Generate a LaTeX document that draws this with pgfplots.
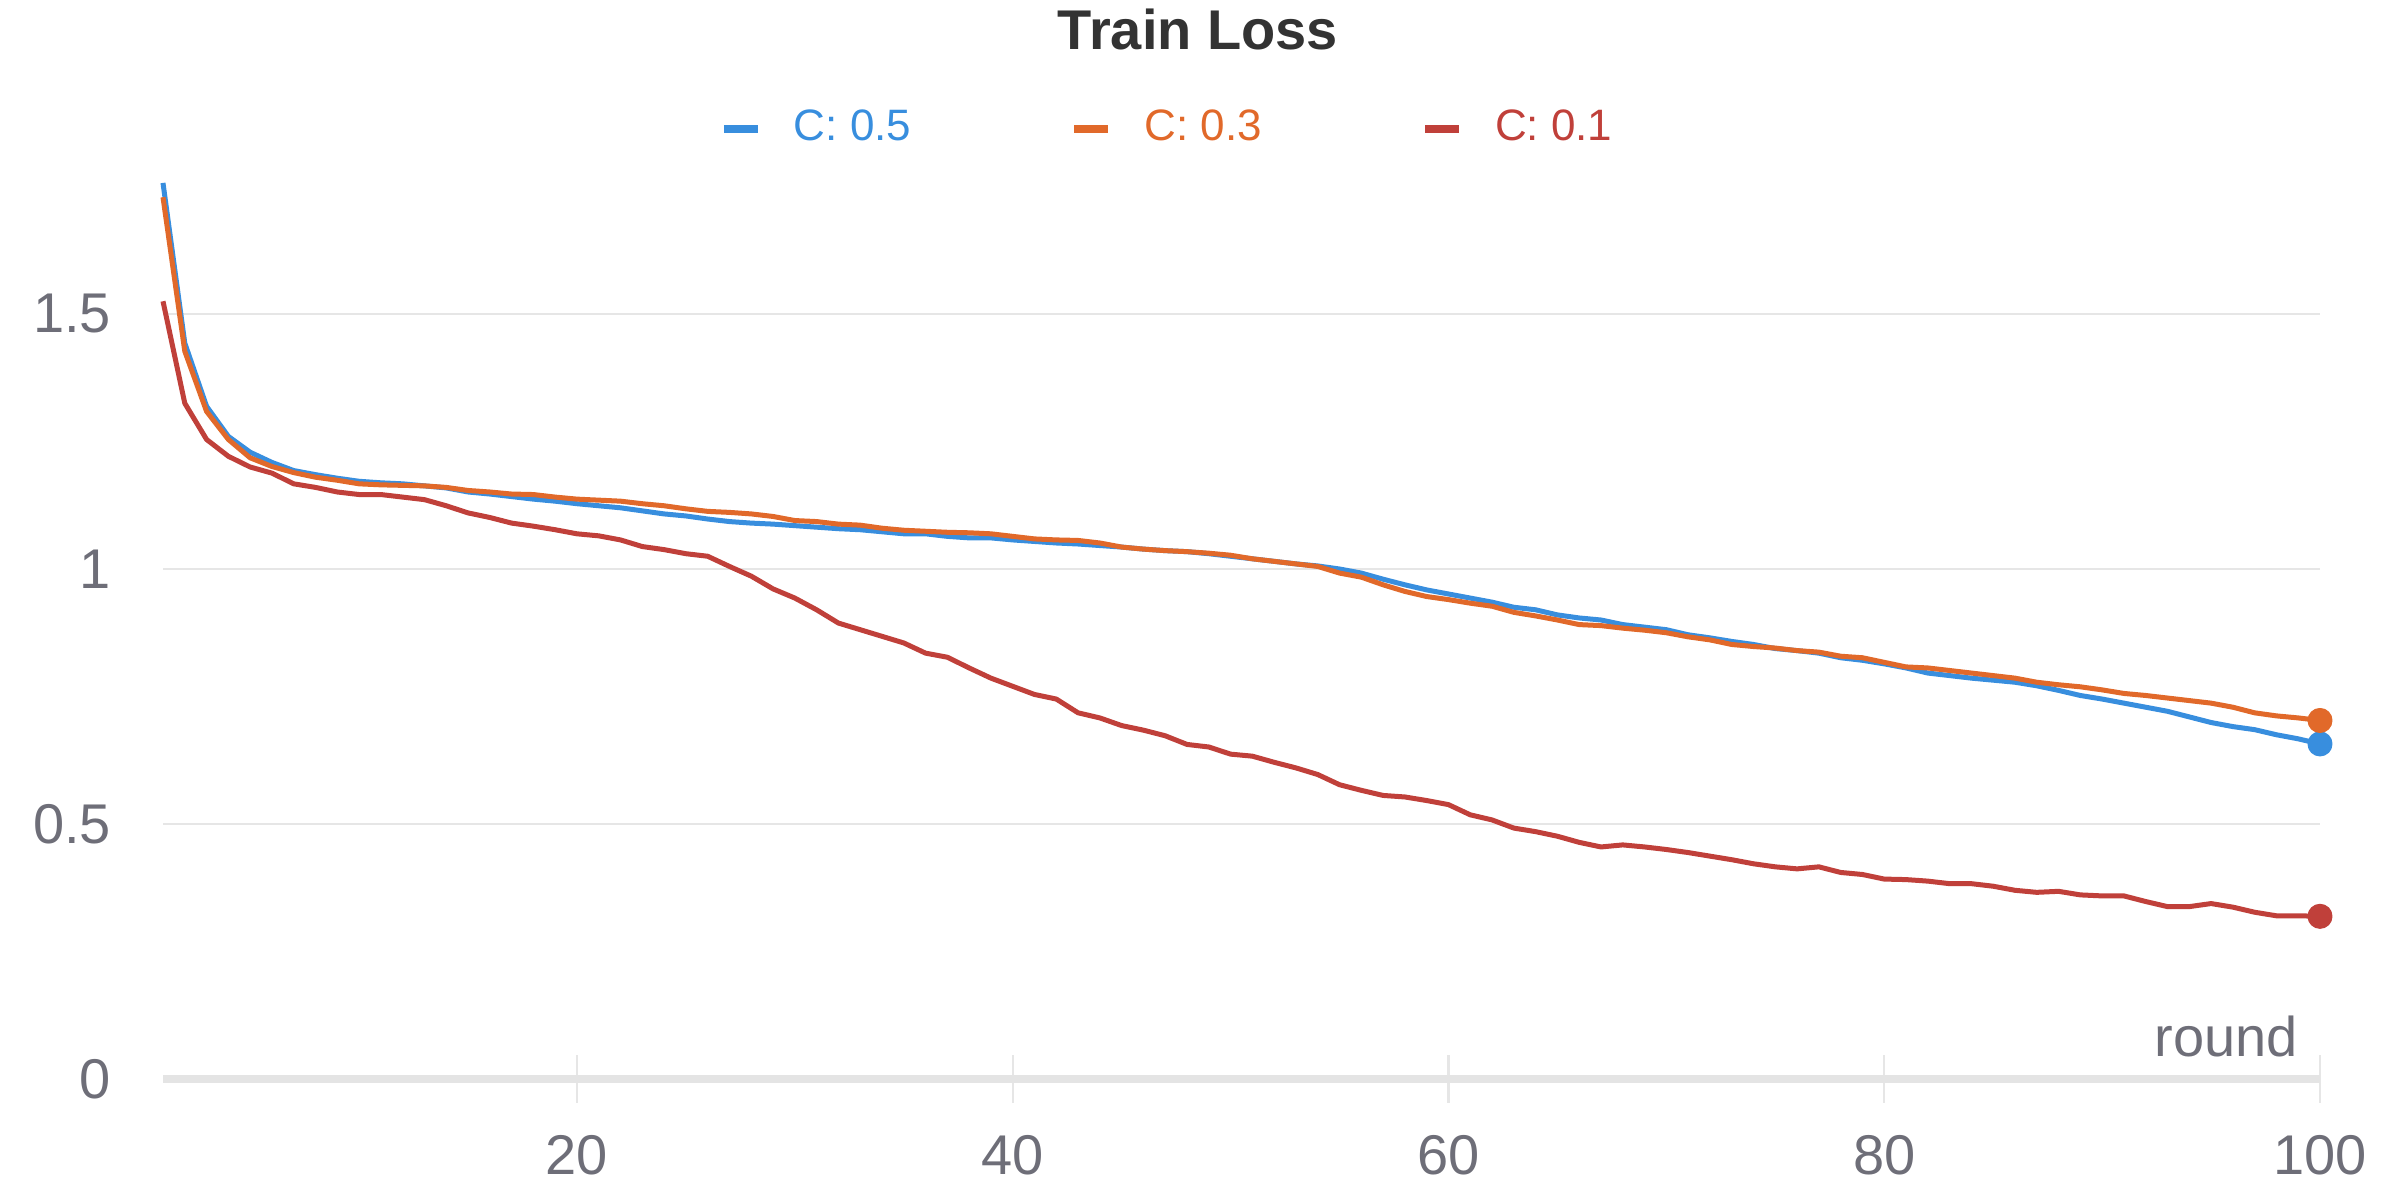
\documentclass[border=0pt]{standalone}
\usepackage{fontspec}
\setmainfont{Liberation Sans}
\usepackage{pgfplots}
\pgfplotsset{compat=1.18}
\usepackage{pgfplotstable}
\definecolor{cblue}{HTML}{388EDE}
\definecolor{corange}{HTML}{E1692A}
\definecolor{cred}{HTML}{C0403A}
\definecolor{gridgray}{HTML}{E6E6E6}
\definecolor{basegray}{HTML}{E4E4E4}
\definecolor{labelgray}{HTML}{6E6E78}
\definecolor{titlegray}{HTML}{333333}

\pgfplotstableread{
r v
1 1.757
2 1.443
3 1.319
4 1.260
5 1.229
6 1.209
7 1.193
8 1.185
9 1.178
10 1.172
11 1.169
12 1.167
13 1.163
14 1.159
15 1.151
16 1.147
17 1.142
18 1.137
19 1.133
20 1.128
21 1.124
22 1.120
23 1.114
24 1.108
25 1.104
26 1.098
27 1.093
28 1.090
29 1.088
30 1.085
31 1.082
32 1.079
33 1.077
34 1.073
35 1.069
36 1.069
37 1.064
38 1.061
39 1.061
40 1.057
41 1.054
42 1.051
43 1.049
44 1.046
45 1.043
46 1.039
47 1.036
48 1.034
49 1.030
50 1.025
51 1.020
52 1.015
53 1.010
54 1.006
55 1.000
56 0.992
57 0.980
58 0.969
59 0.959
60 0.951
61 0.943
62 0.935
63 0.925
64 0.920
65 0.910
66 0.904
67 0.900
68 0.891
69 0.886
70 0.881
71 0.871
72 0.865
73 0.858
74 0.852
75 0.844
76 0.840
77 0.835
78 0.826
79 0.821
80 0.814
81 0.806
82 0.796
83 0.791
84 0.786
85 0.782
86 0.778
87 0.771
88 0.762
89 0.752
90 0.745
91 0.737
92 0.729
93 0.721
94 0.710
95 0.699
96 0.691
97 0.685
98 0.675
99 0.667
100 0.657
}\blue

\pgfplotstableread{
r v
1 1.729
2 1.427
3 1.309
4 1.254
5 1.218
6 1.201
7 1.189
8 1.180
9 1.174
10 1.167
11 1.165
12 1.164
13 1.163
14 1.160
15 1.154
16 1.151
17 1.147
18 1.146
19 1.141
20 1.137
21 1.135
22 1.133
23 1.128
24 1.124
25 1.118
26 1.113
27 1.111
28 1.108
29 1.103
30 1.095
31 1.093
32 1.088
33 1.086
34 1.080
35 1.076
36 1.074
37 1.072
38 1.071
39 1.069
40 1.064
41 1.059
42 1.057
43 1.056
44 1.051
45 1.043
46 1.039
47 1.036
48 1.034
49 1.031
50 1.027
51 1.020
52 1.015
53 1.010
54 1.005
55 0.992
56 0.984
57 0.969
58 0.956
59 0.946
60 0.940
61 0.933
62 0.927
63 0.915
64 0.908
65 0.900
66 0.891
67 0.889
68 0.884
69 0.880
70 0.875
71 0.867
72 0.861
73 0.852
74 0.848
75 0.845
76 0.840
77 0.837
78 0.829
79 0.826
80 0.817
81 0.808
82 0.806
83 0.801
84 0.796
85 0.791
86 0.786
87 0.778
88 0.773
89 0.769
90 0.763
91 0.756
92 0.752
93 0.747
94 0.742
95 0.737
96 0.729
97 0.718
98 0.712
99 0.708
100 0.703
}\orange

\pgfplotstableread{
r v
1 1.525
2 1.325
3 1.254
4 1.221
5 1.200
6 1.188
7 1.167
8 1.160
9 1.151
10 1.146
11 1.146
12 1.141
13 1.136
14 1.124
15 1.110
16 1.101
17 1.090
18 1.084
19 1.077
20 1.069
21 1.065
22 1.057
23 1.044
24 1.038
25 1.030
26 1.025
27 1.005
28 0.986
29 0.961
30 0.943
31 0.920
32 0.894
33 0.881
34 0.868
35 0.855
36 0.835
37 0.827
38 0.806
39 0.786
40 0.770
41 0.754
42 0.745
43 0.718
44 0.708
45 0.693
46 0.684
47 0.673
48 0.656
49 0.651
50 0.637
51 0.633
52 0.621
53 0.610
54 0.597
55 0.577
56 0.566
57 0.556
58 0.553
59 0.546
60 0.538
61 0.518
62 0.508
63 0.492
64 0.485
65 0.476
66 0.464
67 0.455
68 0.459
69 0.455
70 0.450
71 0.444
72 0.437
73 0.430
74 0.422
75 0.416
76 0.412
77 0.416
78 0.405
79 0.401
80 0.392
81 0.391
82 0.388
83 0.383
84 0.383
85 0.378
86 0.370
87 0.366
88 0.368
89 0.361
90 0.359
91 0.359
92 0.348
93 0.338
94 0.338
95 0.344
96 0.337
97 0.327
98 0.320
99 0.320
100 0.319
}\red

\begin{document}
\begin{tikzpicture}
\useasboundingbox (-40.75pt,-30.25pt) rectangle (559.25pt,269.75pt);
\begin{axis}[
  at={(0pt,0pt)}, anchor=south west,
  scale only axis, width=539.25pt, height=229.5pt,
  xmin=1, xmax=100, ymin=0, ymax=1.8,
  clip=false,
  axis line style={draw=none},
  tick pos=left,
  xtick={20,40,60,80,100},
  ytick={0,0.5,1,1.5},
  ymajorgrids,
  grid style={color=gridgray, line width=0.6pt},
  ytick style={draw=none},
  xtick style={color=gridgray, line width=0.6pt},
  major tick length=12pt,
  xtick align=center,
  /pgf/number format/assume math mode=true,
  ticklabel style={font=\fontsize{14}{16}\selectfont, color=labelgray},
  xticklabel style={yshift=-4.5pt},
  yticklabel style={xshift=-9.5pt},
  xlabel={round},
  xlabel style={at={(axis description cs:0.9963,0.024)}, anchor=base east, font=\fontsize{14}{16}\selectfont, color=labelgray},
  legend columns=3,
  legend style={draw=none, fill=none, at={(axis description cs:0.4669,1.0353)}, anchor=center,
    font=\fontsize{11}{13}\selectfont,
    /tikz/every odd column/.append style={column sep=6pt},
    /tikz/every even column/.append style={column sep=37.8pt}},
  legend cell align=left,
  legend image code/.code={\draw[#1, mark=none, line width=2pt] (0pt,0pt) -- (8.5pt,0pt);},
]
\draw[basegray, line width=2.2pt] (axis cs:1,0) -- (axis cs:100,0);
\addplot[cblue, line width=1.25pt, line join=round, mark=*, mark indices={100}, mark size=2.5pt, mark options={draw=none, fill=cblue}] table[x=r, y=v] {\blue};
\addplot[corange, line width=1.25pt, line join=round, mark=*, mark indices={100}, mark size=2.5pt, mark options={draw=none, fill=corange}] table[x=r, y=v] {\orange};
\addplot[cred, line width=1.25pt, line join=round, mark=*, mark indices={100}, mark size=2.5pt, mark options={draw=none, fill=cred}] table[x=r, y=v] {\red};
\legend{\textcolor{cblue}{C: 0.5}, \textcolor{corange}{C: 0.3}, \textcolor{cred}{C: 0.1}}
\end{axis}
\node[font=\bfseries\fontsize{14}{16}\selectfont, color=titlegray] at (258.75pt,262.5pt) {Train Loss};
\end{tikzpicture}
\end{document}
